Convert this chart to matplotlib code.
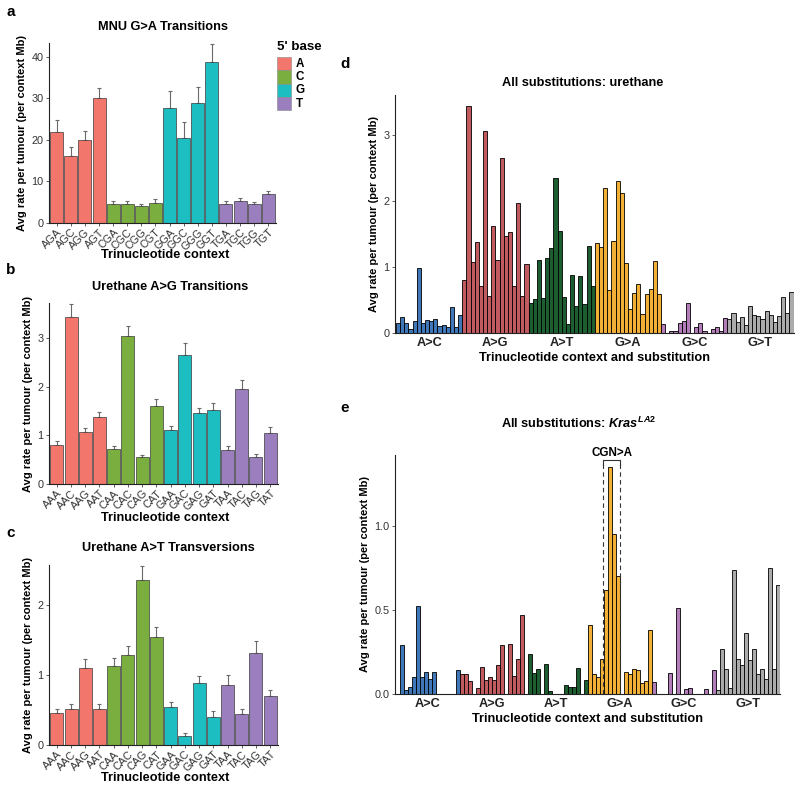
import matplotlib
matplotlib.use("Agg")
import matplotlib.pyplot as plt
from matplotlib.patches import Rectangle
import numpy as np

plt.rcParams['font.family'] = ['Liberation Sans', 'DejaVu Sans']
plt.rcParams['mathtext.fontset'] = 'custom'
plt.rcParams['mathtext.it'] = 'Liberation Sans:italic:bold'
plt.rcParams['mathtext.rm'] = 'Liberation Sans:bold'

# ---------------- data ----------------
base_names = ['A', 'C', 'G', 'T']
base_colors = ['#F2766B', '#7AAE3E', '#1DBEC2', '#9A7EBE']

mnu_ctx = ['AGA', 'AGC', 'AGG', 'AGT', 'CGA', 'CGC', 'CGG', 'CGT',
           'GGA', 'GGC', 'GGG', 'GGT', 'TGA', 'TGC', 'TGG', 'TGT']
mnu_rate = [22.0, 16.2, 19.9, 30.0, 4.5, 4.5, 4.0, 4.8,
            27.7, 20.6, 28.9, 38.7, 4.5, 5.2, 4.5, 6.9]
mnu_se = [2.8, 2.2, 2.3, 2.6, 0.9, 0.7, 0.5, 0.9,
          4.1, 3.7, 3.9, 4.5, 0.7, 0.8, 0.5, 0.7]

a_ctx = ['AAA', 'AAC', 'AAG', 'AAT', 'CAA', 'CAC', 'CAG', 'CAT',
         'GAA', 'GAC', 'GAG', 'GAT', 'TAA', 'TAC', 'TAG', 'TAT']
ag_rate = [0.80, 3.44, 1.07, 1.37, 0.71, 3.05, 0.55, 1.61,
           1.10, 2.65, 1.46, 1.53, 0.70, 1.96, 0.55, 1.04]
ag_se = [0.09, 0.26, 0.09, 0.12, 0.08, 0.20, 0.05, 0.13,
         0.10, 0.24, 0.10, 0.13, 0.09, 0.17, 0.07, 0.14]
at_rate = [0.45, 0.51, 1.10, 0.52, 1.13, 1.29, 2.35, 1.54,
           0.54, 0.13, 0.88, 0.40, 0.86, 0.44, 1.31, 0.70]
at_se = [0.07, 0.08, 0.13, 0.07, 0.11, 0.13, 0.20, 0.15,
         0.07, 0.04, 0.10, 0.08, 0.14, 0.07, 0.17, 0.09]

sub_types = ['A>C', 'A>G', 'A>T', 'G>A', 'G>C', 'G>T']
sub_colors = ['#3F77B9', '#C25B60', '#1C5E30', '#F2B136', '#B27DB8', '#ABABAB']

# urethane, all substitutions (16 contexts per type)
ure_ac = [0.14, 0.24, 0.15, 0.05, 0.18, 0.98, 0.15, 0.19,
          0.18, 0.20, 0.10, 0.11, 0.08, 0.39, 0.08, 0.27]
ure_ag = ag_rate
ure_at = at_rate
ure_ga = [1.36, 1.30, 2.19, 0.65, 1.39, 2.29, 2.11, 1.05,
          0.36, 0.60, 0.73, 0.29, 0.59, 0.66, 1.09, 0.59]
ure_gc = [0.13, 0.0, 0.03, 0.03, 0.14, 0.18, 0.45, 0.0,
          0.08, 0.14, 0.02, 0.0, 0.05, 0.09, 0.03, 0.22]
ure_gt = [0.20, 0.30, 0.16, 0.24, 0.12, 0.41, 0.27, 0.26,
          0.21, 0.33, 0.27, 0.16, 0.25, 0.54, 0.30, 0.61]

# Kras LA2, all substitutions
kras_ac = [0.0, 0.29, 0.026, 0.04, 0.10, 0.52, 0.10, 0.13,
           0.09, 0.13, 0.0, 0.0, 0.0, 0.0, 0.0, 0.14]
kras_ag = [0.12, 0.12, 0.08, 0.0, 0.035, 0.16, 0.084, 0.10,
           0.084, 0.17, 0.29, 0.0, 0.30, 0.106, 0.21, 0.47]
kras_at = [0.0, 0.24, 0.125, 0.15, 0.0, 0.18, 0.02, 0.0,
           0.0, 0.0, 0.053, 0.043, 0.04, 0.155, 0.0, 0.085]
kras_ga = [0.41, 0.12, 0.10, 0.21, 0.62, 1.35, 0.95, 0.70,
           0.0, 0.13, 0.12, 0.15, 0.14, 0.065, 0.075, 0.38]
kras_gc = [0.073, 0.0, 0.0, 0.0, 0.125, 0.0, 0.51, 0.0,
           0.03, 0.034, 0.0, 0.0, 0.0, 0.03, 0.0, 0.14]
kras_gt = [0.026, 0.265, 0.15, 0.037, 0.735, 0.21, 0.17, 0.36,
           0.20, 0.27, 0.12, 0.15, 0.087, 0.75, 0.15, 0.645]

# ---------------- figure ----------------
W, H = 800, 790
fig = plt.figure(figsize=(W / 100, H / 100), dpi=100)


def ax_px(l, t, r, b):
    return fig.add_axes([l / W, 1 - b / H, (r - l) / W, (b - t) / H])


def ftext(x, y, s, **kw):
    fig.text(x / W, 1 - y / H, s, **kw)


TICK_C = '#333333'
YLAB = 'Avg rate per tumour (per context Mb)'
TITLE_FS = 9.2
LAB_FS = 9.2


def style_axes(ax):
    for s in ['top', 'right']:
        ax.spines[s].set_visible(False)
    for s in ['left', 'bottom']:
        ax.spines[s].set_linewidth(0.8)
        ax.spines[s].set_color('#222222')
    ax.tick_params(axis='both', length=2.5, width=0.6, color='#444444',
                   labelcolor=TICK_C, labelsize=7.8, pad=1.5)


def context_panel(ax, ctx, rate, se, ymax, yticks):
    x = np.arange(1, len(ctx) + 1)
    cols = [base_colors[base_names.index(c[0])] for c in ctx]
    ax.bar(x, rate, width=0.92, color=cols, edgecolor='#3a3a3a', linewidth=0.5, zorder=2)
    ax.errorbar(x, rate, yerr=[np.zeros(len(rate)), se], fmt='none',
                ecolor='#6a6a6a', elinewidth=0.8, capsize=1.6, capthick=0.8, zorder=1)
    ax.set_xlim(0.45, len(ctx) + 0.55)
    ax.set_ylim(0, ymax)
    ax.set_yticks(yticks)
    ax.set_xticks(x)
    ax.set_xticklabels(ctx, rotation=45, ha='right', rotation_mode='anchor', fontsize=5.8)
    style_axes(ax)
    ax.tick_params(axis='x', length=2, pad=1)
    ax.set_ylabel(YLAB, fontsize=8, fontweight='bold', labelpad=3)


# panel a
axa = ax_px(49, 43.3, 276, 223)
context_panel(axa, mnu_ctx, mnu_rate, mnu_se, 43.3, [0, 10, 20, 30, 40])
ftext(163, 27, 'MNU G>A Transitions', fontsize=TITLE_FS, fontweight='bold', ha='center', va='center')
ftext(165, 255, 'Trinucleotide context', fontsize=LAB_FS, fontweight='bold', ha='center', va='center')
ftext(11, 12, 'a', fontsize=11, fontweight='bold', ha='center', va='center')

# panel b
axb = ax_px(49, 303, 278, 484)
context_panel(axb, a_ctx, ag_rate, ag_se, 3.72, [0, 1, 2, 3])
ftext(170, 287, 'Urethane A>G Transitions', fontsize=TITLE_FS, fontweight='bold', ha='center', va='center')
ftext(165, 518, 'Trinucleotide context', fontsize=LAB_FS, fontweight='bold', ha='center', va='center')
ftext(11, 270, 'b', fontsize=11, fontweight='bold', ha='center', va='center')

# panel c
axc = ax_px(49, 565, 278, 745)
context_panel(axc, a_ctx, at_rate, at_se, 2.57, [0, 1, 2])
ftext(168, 548, 'Urethane A>T Transversions', fontsize=TITLE_FS, fontweight='bold', ha='center', va='center')
ftext(165, 778, 'Trinucleotide context', fontsize=LAB_FS, fontweight='bold', ha='center', va='center')
ftext(11, 533, 'c', fontsize=11, fontweight='bold', ha='center', va='center')

# legend (5' base)
ftext(277, 47, "5' base", fontsize=9.6, fontweight='bold', ha='left', va='center')
for i, (b, c) in enumerate(zip(base_names, base_colors)):
    y0 = 57 + i * 13.3
    fig.add_artist(Rectangle((277 / W, 1 - (y0 + 13.3) / H), 14 / W, 13.3 / H,
                             transform=fig.transFigure, facecolor=c,
                             edgecolor='#888888', linewidth=0.4))
    ftext(296, y0 + 6.8, b, fontsize=8.4, fontweight='bold', ha='left', va='center')


def all_sub_panel(ax, groups, ymax, yticks, xmax):
    for g, (vals, col) in enumerate(zip(groups, sub_colors)):
        pos = np.arange(16) + 16 * g
        v = np.array(vals)
        keep = v > 0
        ax.bar(pos[keep], v[keep], width=1.0, color=col, edgecolor='black',
               linewidth=0.6, zorder=2)
    ax.set_xlim(-0.75, xmax)
    ax.set_ylim(0, ymax)
    ax.set_yticks(yticks)
    ax.set_xticks([16 * g + 7.5 for g in range(6)])
    ax.set_xticklabels(sub_types, fontweight='bold', color='#222222')
    style_axes(ax)
    ax.tick_params(axis='x', length=0, pad=3, labelcolor='#222222', labelsize=LAB_FS)
    ax.set_ylabel(YLAB, fontsize=8, fontweight='bold', labelpad=3)
    ax.set_xlabel('Trinucleotide context and substitution', fontsize=LAB_FS,
                  fontweight='bold', labelpad=2)


# panel d
axd = ax_px(395, 95, 794, 332.7)
all_sub_panel(axd, [ure_ac, ure_ag, ure_at, ure_ga, ure_gc, ure_gt], 3.6, [0, 1, 2, 3], 95.6)
ftext(583, 83, 'All substitutions: urethane', fontsize=TITLE_FS, fontweight='bold', ha='center', va='center')
ftext(345, 64, 'd', fontsize=11, fontweight='bold', ha='center', va='center')

# panel e
axe = ax_px(395, 455, 780, 694)
all_sub_panel(axe, [kras_ac, kras_ag, kras_at, kras_ga, kras_gc, kras_gt], 1.42,
              [0.0, 0.5, 1.0], 95.6)
axe.set_yticklabels(['0.0', '0.5', '1.0'])
ftext(579, 423, r'All substitutions: $\it{Kras}^{LA2}$', fontsize=TITLE_FS, fontweight='bold',
      ha='center', va='center')
ftext(345, 408, 'e', fontsize=11, fontweight='bold', ha='center', va='center')

# CGN>A highlight (G>A positions with 5' C)
cg_lo, cg_hi = 48 + 4 - 0.6, 48 + 7 + 0.6
axe.plot([cg_lo, cg_lo], [0, 1.37], ls=(0, (4, 3)), color='#333333', lw=0.8, zorder=3, clip_on=False)
axe.plot([cg_hi, cg_hi], [0, 1.37], ls=(0, (4, 3)), color='#333333', lw=0.8, zorder=3, clip_on=False)
axe.plot([cg_lo, cg_lo, cg_hi, cg_hi], [1.36, 1.39, 1.39, 1.36], color='#333333', lw=0.8,
         zorder=3, clip_on=False)
axe.text((cg_lo + cg_hi) / 2, 1.43, 'CGN>A', fontsize=8.4, fontweight='bold', ha='center',
         va='center', clip_on=False)

fig.savefig('out.png', dpi=100)
